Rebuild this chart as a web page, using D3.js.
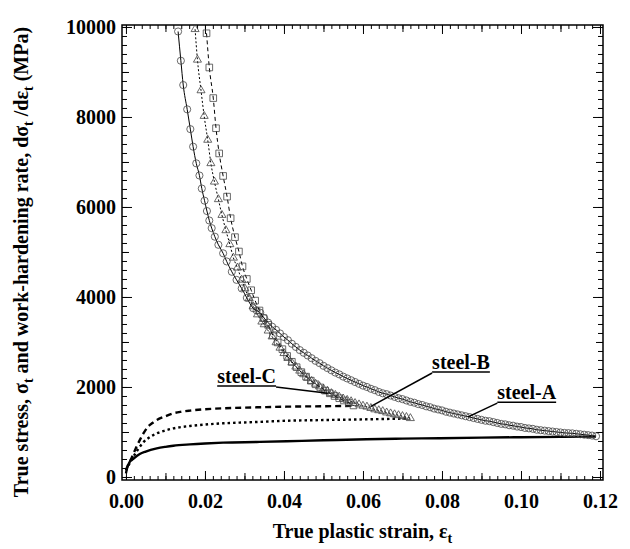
<!DOCTYPE html>
<html>
<head>
<meta charset="utf-8">
<script src="https://cdn.jsdelivr.net/npm/d3@7"></script>
<style>
  body { margin: 0; background: #fff; }
  svg text { font-family: "Liberation Serif", "Times New Roman", serif; font-weight: bold; fill: #000; }
</style>
</head>
<body>
<div id="chart"></div>
<script>
// work-hardening rate, [true plastic strain, MPa]
const steelARate = [
  [0.0132, 9900], [0.0139, 9250], [0.0145, 8710], [0.0155, 8170], [0.0163, 7730],
  [0.0170, 7340], [0.0178, 6970], [0.0186, 6700], [0.0192, 6410], [0.0199, 6140],
  [0.0205, 5910], [0.0211, 5700], [0.0217, 5530], [0.0225, 5340], [0.0234, 5160],
  [0.0246, 4970], [0.0255, 4790], [0.0268, 4560], [0.0280, 4380], [0.0293, 4190],
  [0.0306, 3980], [0.0322, 3750], [0.0331, 3700], [0.034, 3650], [0.035, 3530],
  [0.036, 3430], [0.037, 3340], [0.038, 3270], [0.039, 3190], [0.040, 3110],
  [0.041, 3040], [0.042, 2960], [0.043, 2890], [0.044, 2820], [0.045, 2760],
  [0.046, 2700], [0.047, 2640], [0.048, 2580], [0.049, 2530], [0.050, 2470],
  [0.051, 2420], [0.052, 2370], [0.053, 2320], [0.054, 2280], [0.055, 2230],
  [0.056, 2190], [0.057, 2150], [0.058, 2110], [0.059, 2070], [0.060, 2030],
  [0.061, 2000], [0.062, 1960], [0.063, 1930], [0.064, 1890], [0.065, 1860],
  [0.066, 1840], [0.067, 1810], [0.068, 1780], [0.069, 1750], [0.070, 1730],
  [0.071, 1700], [0.072, 1670], [0.073, 1650], [0.074, 1620], [0.075, 1600],
  [0.076, 1570], [0.077, 1550], [0.078, 1520], [0.079, 1500], [0.080, 1480],
  [0.081, 1450], [0.082, 1430], [0.083, 1410], [0.084, 1390], [0.085, 1370],
  [0.086, 1350], [0.087, 1330], [0.088, 1310], [0.089, 1290], [0.090, 1270],
  [0.091, 1250], [0.092, 1240], [0.093, 1220], [0.094, 1200], [0.095, 1180],
  [0.096, 1170], [0.097, 1150], [0.098, 1140], [0.099, 1120], [0.100, 1110],
  [0.101, 1090], [0.102, 1080], [0.103, 1070], [0.104, 1050], [0.105, 1040],
  [0.106, 1030], [0.107, 1020], [0.108, 1010], [0.109, 1000], [0.110, 990],
  [0.111, 980], [0.112, 975], [0.113, 970], [0.114, 960], [0.115, 950],
  [0.116, 940], [0.117, 930], [0.118, 920], [0.119, 905]
];

const steelBRate = [
  [0.0204, 9860], [0.0211, 9100], [0.0221, 8420], [0.0228, 7750], [0.0236, 7190],
  [0.0246, 6690], [0.0256, 6230], [0.0265, 5750], [0.0276, 5330], [0.0286, 5010],
  [0.0295, 4680], [0.0306, 4400], [0.0317, 4150], [0.0327, 3920], [0.0338, 3700],
  [0.0348, 3530], [0.0360, 3380], [0.0372, 3150], [0.0384, 2990], [0.0396, 2840],
  [0.0408, 2690], [0.0420, 2560], [0.0432, 2440], [0.0444, 2330], [0.0456, 2230],
  [0.0468, 2140], [0.0480, 2060], [0.0492, 1990], [0.0504, 1920], [0.0516, 1860],
  [0.0528, 1800], [0.0540, 1750], [0.0552, 1700], [0.0564, 1650], [0.0576, 1590]
];

const steelCRate = [
  [0.0175, 9950], [0.0181, 9270], [0.0190, 8590], [0.0198, 8020], [0.0207, 7490],
  [0.0215, 6970], [0.0224, 6560], [0.0234, 6170], [0.0243, 5820], [0.0253, 5480],
  [0.0263, 5170], [0.0272, 4870], [0.0282, 4650], [0.0293, 4380], [0.0301, 4190],
  [0.0312, 3970], [0.0322, 3790], [0.0333, 3610], [0.0344, 3450], [0.035, 3390],
  [0.036, 3250], [0.037, 3120], [0.038, 2990], [0.039, 2870], [0.040, 2750],
  [0.041, 2640], [0.042, 2540], [0.043, 2450], [0.044, 2360], [0.045, 2280],
  [0.046, 2200], [0.047, 2130], [0.048, 2070], [0.049, 2010], [0.050, 1960],
  [0.051, 1910], [0.052, 1860], [0.053, 1820], [0.054, 1780], [0.055, 1740],
  [0.056, 1710], [0.057, 1680], [0.058, 1640], [0.059, 1610], [0.060, 1580],
  [0.061, 1560], [0.062, 1530], [0.063, 1500], [0.064, 1480], [0.065, 1460],
  [0.066, 1430], [0.067, 1410], [0.068, 1390], [0.069, 1370], [0.070, 1350],
  [0.071, 1330], [0.072, 1305]
];

// true stress, [true plastic strain, MPa]
const steelAStress = [
  [0, 80], [0.0003, 200], [0.0006, 270], [0.001, 340], [0.0018, 400], [0.0035, 510],
  [0.005, 565], [0.0078, 635], [0.01, 670], [0.012, 695], [0.0162, 725], [0.02, 745],
  [0.0246, 763], [0.0331, 778], [0.0407, 793], [0.05, 815], [0.0609, 840], [0.07, 852],
  [0.0795, 862], [0.09, 875], [0.1, 884], [0.11, 892], [0.119, 897]
];

const steelBStress = [
  [0, 150], [0.0007, 300], [0.0014, 415], [0.0025, 640], [0.0035, 820], [0.0045, 980],
  [0.0056, 1120], [0.0067, 1200], [0.0078, 1265], [0.01, 1350], [0.012, 1415],
  [0.014, 1450], [0.0162, 1475], [0.02, 1505], [0.0246, 1526], [0.03, 1542],
  [0.0331, 1548], [0.0407, 1563], [0.05, 1572], [0.0576, 1580]
];

const steelCStress = [
  [0, 150], [0.0007, 270], [0.0014, 378], [0.0025, 540], [0.0035, 670], [0.0045, 780],
  [0.0056, 860], [0.0067, 920], [0.0078, 970], [0.01, 1035], [0.012, 1080],
  [0.0162, 1133], [0.02, 1165], [0.0246, 1193], [0.03, 1212], [0.0331, 1222],
  [0.0407, 1250], [0.05, 1265], [0.06, 1280], [0.0718, 1300]
];

const xTickLabels = [0, 0.02, 0.04, 0.06, 0.08, 0.10, 0.12];
const yTickLabels = [0, 2000, 4000, 6000, 8000, 10000];

// label text, text anchor [strain, MPa], leader start, leader end
const steelLabels = [
  { name: "steel-C", at: [0.0231, 2090], from: "right", to: [0.0511, 1860] },
  { name: "steel-B", at: [0.0775, 2400], from: "left", to: [0.0619, 1565] },
  { name: "steel-A", at: [0.0940, 1730], from: "left", to: [0.0866, 1335] }
];

const width = 630;
const height = 549;
const frame = { left: 122, right: 603, top: 25, bottom: 480 };

const x = d3.scaleLinear().domain([-0.001, 0.12076]).range([frame.left, frame.right]);
const y = d3.scaleLinear().domain([-67, 10044]).range([frame.bottom, frame.top]);

const svg = d3.select("#chart")
    .append("svg")
    .attr("width", width)
    .attr("height", height);

svg.append("defs").append("clipPath")
    .attr("id", "plot")
    .append("rect")
    .attr("x", frame.left)
    .attr("y", frame.top)
    .attr("width", frame.right - frame.left)
    .attr("height", frame.bottom - frame.top);

// Ticks on all four sides, pointing inwards
const xMinor = d3.range(0, 0.1201, 0.002);
const xMid = d3.range(0.01, 0.12, 0.02);
const yMinor = d3.range(0, 10001, 200);
const yMid = d3.range(1000, 10000, 2000);

function tickLayer(axis, values, size, transform, labels) {
    const g = svg.append("g")
        .attr("transform", transform)
        .call(axis.tickValues(values).tickSizeInner(-size).tickSizeOuter(0)
            .tickFormat(labels ? labels : ""));
    g.select(".domain").remove();
    g.selectAll(".tick line").attr("stroke", "#000").attr("stroke-width", 1);
    return g;
}

const bottomT = `translate(0,${frame.bottom})`;
const topT = `translate(0,${frame.top})`;
const leftT = `translate(${frame.left},0)`;
const rightT = `translate(${frame.right},0)`;

tickLayer(d3.axisBottom(x), xMinor, 4, bottomT);
tickLayer(d3.axisBottom(x), xMid, 7, bottomT);
const xAxis = tickLayer(d3.axisBottom(x).tickPadding(14), xTickLabels, 9, bottomT, d3.format(".2f"));
tickLayer(d3.axisTop(x), xMinor, -4, topT);
tickLayer(d3.axisTop(x), xMid, -7, topT);
tickLayer(d3.axisTop(x), xTickLabels, -9, topT);

tickLayer(d3.axisLeft(y), yMinor, 5, leftT);
tickLayer(d3.axisLeft(y), yMid, 7, leftT);
const yAxis = tickLayer(d3.axisLeft(y).tickPadding(6), yTickLabels, 10, leftT, d3.format("d"));
tickLayer(d3.axisRight(y), yMinor, -5, rightT);
tickLayer(d3.axisRight(y), yMid, -7, rightT);
tickLayer(d3.axisRight(y), yTickLabels, -10, rightT);

// axisTop/axisRight with negative size draw outward; flip them inward
svg.selectAll("g").filter(function () {
    const t = d3.select(this).attr("transform");
    return t === topT || t === rightT;
}).selectAll(".tick line").each(function () {
    const l = d3.select(this);
    if (l.attr("y2") !== null && +l.attr("y2") !== 0) l.attr("y2", -l.attr("y2"));
    if (l.attr("x2") !== null && +l.attr("x2") !== 0) l.attr("x2", -l.attr("x2"));
});

xAxis.selectAll("text").style("font-size", "20px");
yAxis.selectAll("text").style("font-size", "20px");

svg.append("rect")
    .attr("x", frame.left)
    .attr("y", frame.top)
    .attr("width", frame.right - frame.left)
    .attr("height", frame.bottom - frame.top)
    .attr("fill", "none")
    .attr("stroke", "#000")
    .attr("stroke-width", 1.5);

const line = d3.line()
    .x(d => x(d[0]))
    .y(d => y(d[1]))
    .curve(d3.curveMonotoneX);

const plot = svg.append("g").attr("clip-path", "url(#plot)");

// stress curves, thick
const stressCurves = [
    { data: steelAStress, dash: null },
    { data: steelBStress, dash: "6,4" },
    { data: steelCStress, dash: "2.5,3" }
];
stressCurves.forEach(c => {
    plot.append("path")
        .datum(c.data)
        .attr("d", line)
        .attr("fill", "none")
        .attr("stroke", "#000")
        .attr("stroke-width", 2.4)
        .attr("stroke-dasharray", c.dash);
});

// hardening-rate curves, thin with markers
const rateCurves = [
    { data: steelCRate, dash: "2,2", symbol: d3.symbolTriangle, size: 28 },
    { data: steelBRate, dash: "4,3", symbol: d3.symbolSquare, size: 44 },
    { data: steelARate, dash: null, symbol: d3.symbolCircle, size: 40 }
];
rateCurves.forEach(c => {
    plot.append("path")
        .datum(c.data)
        .attr("d", line)
        .attr("fill", "none")
        .attr("stroke", "#000")
        .attr("stroke-width", 1)
        .attr("stroke-dasharray", c.dash);

    plot.append("g")
        .selectAll("path")
        .data(c.data)
        .enter()
        .append("path")
        .attr("d", d3.symbol().type(c.symbol).size(c.size))
        .attr("transform", d => `translate(${x(d[0])},${y(d[1])})`)
        .attr("fill", "none")
        .attr("stroke", "#444")
        .attr("stroke-width", 0.8);
});

// Steel labels with underline and leader line
steelLabels.forEach(s => {
    const tx = x(s.at[0]);
    const ty = y(s.at[1]);
    const t = svg.append("text")
        .attr("x", tx)
        .attr("y", ty)
        .style("font-size", "20px")
        .text(s.name);
    const w = t.node().getComputedTextLength();
    svg.append("line")
        .attr("x1", tx).attr("x2", tx + w)
        .attr("y1", ty + 3).attr("y2", ty + 3)
        .attr("stroke", "#000").attr("stroke-width", 1.5);
    const sx = s.from === "right" ? tx + w : tx;
    svg.append("line")
        .attr("x1", sx).attr("y1", ty + 4)
        .attr("x2", x(s.to[0])).attr("y2", y(s.to[1]))
        .attr("stroke", "#000").attr("stroke-width", 1.5);
});

// Axis titles
const xTitle = svg.append("text")
    .attr("x", (frame.left + frame.right) / 2)
    .attr("y", 538)
    .attr("text-anchor", "middle")
    .style("font-size", "20px");
xTitle.append("tspan").text("True plastic strain, ε");
xTitle.append("tspan").attr("dy", 5).style("font-size", "14px").text("t");

const yTitle = svg.append("text")
    .attr("transform", "translate(28,262) rotate(-90)")
    .attr("text-anchor", "middle")
    .style("font-size", "20px");
yTitle.append("tspan").text("True stress, σ");
yTitle.append("tspan").attr("dy", 5).style("font-size", "14px").text("t");
yTitle.append("tspan").attr("dy", -5).text(" and work-hardening rate, dσ");
yTitle.append("tspan").attr("dy", 5).style("font-size", "14px").text("t");
yTitle.append("tspan").attr("dy", -5).text(" /dε");
yTitle.append("tspan").attr("dy", 5).style("font-size", "14px").text("t");
yTitle.append("tspan").attr("dy", -5).text("  (MPa)");
</script>
</body>
</html>
